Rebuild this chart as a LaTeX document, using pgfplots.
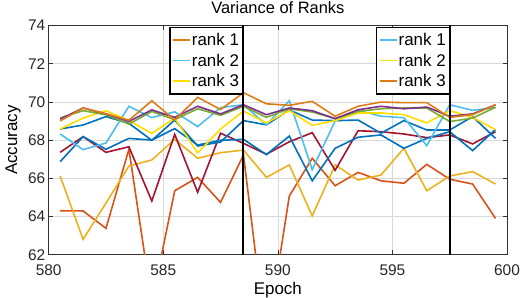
\documentclass[border=0pt]{standalone}
\usepackage{fontspec}
\setmainfont{Liberation Sans}
\usepackage{pgfplots}
\pgfplotsset{compat=1.18}
\usepackage{pgfplotstable}

\definecolor{mblue}{RGB}{0,114,189}
\definecolor{mred}{RGB}{217,83,25}
\definecolor{myel}{RGB}{237,177,32}
\definecolor{mpur}{RGB}{126,47,142}
\definecolor{mgrn}{RGB}{119,172,48}
\definecolor{mlb}{RGB}{77,190,238}
\definecolor{mdr}{RGB}{162,20,47}
\definecolor{morg}{RGB}{222,125,20}
\definecolor{byel}{RGB}{255,221,0}

% x  A(orange top) B(purple) C(green) D(bright yellow) E(light blue) P(blue upper) Q(blue lower) G(dark red) H(yellow-orange) I(red-orange)
\pgfplotstableread{
x     A     B     C     D     E     P     Q     G     H     I
580.5 69.00 69.10 69.16 68.58 68.32 68.58 66.87 67.36 66.12 64.30
581.5 69.68 69.68 69.54 69.15 67.50 68.79 68.18 68.18 62.80 64.29
582.5 69.38 69.37 69.33 69.54 67.85 69.23 67.52 67.36 64.70 63.38
583.5 69.04 68.98 68.84 69.02 69.77 68.88 68.09 67.65 66.64 67.52
584.5 70.06 69.58 69.50 68.35 69.18 67.99 68.00 64.81 66.96 59.50
585.5 69.05 69.19 69.07 69.15 69.48 69.05 68.60 68.30 68.04 65.35
586.5 70.24 69.77 69.64 67.33 68.71 67.69 67.74 65.27 67.05 66.05
587.5 69.60 69.37 69.30 68.58 69.70 67.90 67.99 68.36 67.34 64.74
588.5 70.48 69.85 69.77 69.52 69.85 69.02 68.04 67.83 67.48 67.22
589.5 69.90 69.33 69.19 68.90 68.80 68.80 67.24 67.26 66.05 57.40
590.5 69.82 69.68 69.64 69.54 70.06 69.58 68.21 67.91 66.70 65.07
591.5 70.03 69.54 69.47 68.77 66.45 69.05 65.87 68.39 64.03 67.05
592.5 69.25 69.12 69.13 69.02 69.00 69.02 67.57 66.42 66.70 65.61
593.5 69.77 69.59 69.50 69.42 69.55 69.05 68.15 68.49 65.91 66.31
594.5 69.99 69.77 69.64 69.42 69.25 68.36 68.27 68.44 66.17 65.87
595.5 69.96 69.64 69.68 69.33 69.17 69.02 67.57 68.32 67.57 65.74
596.5 69.96 69.73 69.68 68.90 67.71 68.53 68.09 68.13 65.35 66.73
597.5 69.19 69.25 68.97 69.54 69.85 68.53 68.44 68.27 66.12 65.95
598.5 69.33 69.37 69.15 69.19 69.56 69.23 67.45 67.80 66.35 65.70
599.5 69.85 69.85 69.72 68.54 69.70 68.09 68.56 68.44 65.70 63.90
}\data

\pgfplotsset{
  myax/.style={
    scale only axis,
    width=458.3bp, height=229.2bp,
    xmin=580, xmax=600, ymin=62, ymax=74,
    xtick={580,585,...,600}, ytick={62,64,...,74},
    /pgf/number format/assume math mode=true,
    ticklabel style={font=\fontsize{15.5}{18}\selectfont, color=black!85},
    x tick label style={anchor=base, yshift=-20.3bp},
    tick align=inside,
    major tick length=4.5bp,
    tick style={black!80, line width=0.7bp},
    axis line style={black!80, line width=1bp},
    legend cell align=left,
    legend image code/.code={\draw[#1, line width=1.6bp] (0bp,0bp) -- (16.7bp,0bp);},
    legend style={
      draw=black, line width=1.4bp, fill=white,
      inner xsep=2.6bp, inner ysep=2.5bp,
      font=\fontsize{17}{20}\selectfont,
      nodes={inner xsep=1bp, inner ysep=0pt, text height=16bp, text depth=4.5bp},
      column sep=0pt, row sep=0pt,
    },
  },
  dl/.style={line width=1.6bp, forget plot},
}

\begin{document}
\begin{tikzpicture}
\useasboundingbox (-48.7bp,-43.3bp) rectangle (471.3bp,254.7bp);
\begin{axis}[myax,
  grid=major,
  major grid style={black!15, line width=0.7bp},
  title={Variance of Ranks},
  title style={font=\fontsize{16.5}{20}\selectfont, at={(0.5,1)}, anchor=base, yshift=6.5bp, inner sep=0pt},
  xlabel={Epoch},
  xlabel style={font=\fontsize{17}{20}\selectfont, at={(axis description cs:0.5,-0.1737)}, anchor=base, inner sep=0pt},
  ylabel={Accuracy},
  ylabel style={font=\fontsize{17}{20}\selectfont, at={(axis description cs:-0.0687,0.5)}, anchor=base, inner sep=0pt},
  legend style={at={(0.4246,0.995)}, anchor=north east},
]
\addlegendimage{morg}\addlegendentry{rank 1}
\addlegendimage{mlb}\addlegendentry{rank 2}
\addlegendimage{byel}\addlegendentry{rank 3}

\addplot[dl, mred] table[x=x, y=I] {\data};
\addplot[dl, myel] table[x=x, y=H] {\data};
\addplot[dl, mdr] table[x=x, y=G] {\data};
\addplot[dl, mblue] table[x=x, y=Q] {\data};
\addplot[dl, mblue] table[x=x, y=P] {\data};
\addplot[dl, mlb] table[x=x, y=E] {\data};
\addplot[dl, byel] table[x=x, y=D] {\data};
\addplot[dl, mgrn] table[x=x, y=C] {\data};
\addplot[dl, mpur] table[x=x, y=B] {\data};
\addplot[dl, morg] table[x=x, y=A] {\data};

\addplot[black, line width=2bp, forget plot] coordinates {(588.5,62) (588.5,74)};
\addplot[black, line width=2bp, forget plot] coordinates {(597.5,62) (597.5,74)};
\end{axis}
\begin{axis}[myax, hide axis,
  legend style={at={(0.8757,0.995)}, anchor=north east},
]
\addlegendimage{mlb}\addlegendentry{rank 1}
\addlegendimage{byel}\addlegendentry{rank 2}
\addlegendimage{morg}\addlegendentry{rank 3}
\end{axis}
\end{tikzpicture}
\end{document}
